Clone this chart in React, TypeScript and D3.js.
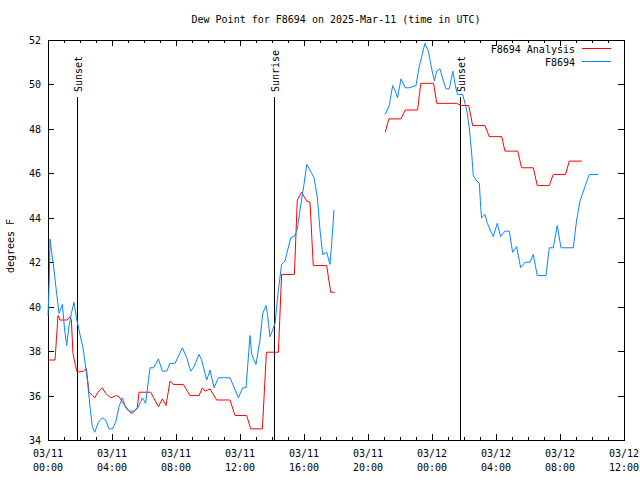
import React from "react";
import * as d3 from "d3";

const title = "Dew Point for F8694 on 2025-Mar-11 (time in UTC)";
const yLabel = "degrees F";
const yTicks = [34, 36, 38, 40, 42, 44, 46, 48, 50, 52];
const xTickHours = [0, 4, 8, 12, 16, 20, 24, 28, 32, 36];
const xTickDates = ["03/11", "03/11", "03/11", "03/11", "03/11", "03/11", "03/12", "03/12", "03/12", "03/12"];
const xTickTimes = ["00:00", "04:00", "08:00", "12:00", "16:00", "20:00", "00:00", "04:00", "08:00", "12:00"];
const seriesNames = ["F8694 Analysis", "F8694"];
const seriesColors = ["#ff0000", "#0a84ff"];

const events = [
  { name: "Sunset", hour: 1.81 },
  { name: "Sunrise", hour: 14.13 },
  { name: "Sunset", hour: 25.77 },
];

// hours since 03/11 00:00 UTC, dew point °F
const analysisSeg1: [number, number][] = [
  [0, 37.6], [0.44, 37.6], [0.625, 39.6], [0.75, 39.4], [1.2, 39.4], [1.375, 39.55], [1.46, 39.4],
  [1.56, 37.9], [1.73, 37.3], [1.83, 37.05], [2.21, 37.1], [2.4, 37.2], [2.56, 36.15], [2.77, 36.0],
  [2.92, 35.9], [3.125, 36.15], [3.4, 36.35], [3.6, 36.1], [3.92, 35.9], [4.29, 36.0], [4.44, 35.95],
  [4.75, 35.6], [5.125, 35.25], [5.27, 35.2], [5.58, 35.45], [5.69, 36.15], [6.42, 36.15], [6.6, 35.9],
  [6.9, 35.5], [7.15, 35.85], [7.375, 35.55], [7.625, 36.65], [7.83, 36.5], [8.46, 36.5], [8.875, 36.0],
  [9.44, 36.0], [9.65, 36.35], [9.81, 36.2], [10.125, 36.3], [10.54, 35.8], [11.375, 35.8], [11.69, 35.1],
  [12.42, 35.1], [12.67, 34.5], [13.4, 34.5], [13.65, 37.95], [14.4, 37.95], [14.6, 41.45], [15.4, 41.45],
  [15.58, 44.8], [15.85, 45.15], [16.17, 44.75], [16.375, 44.7], [16.58, 41.85], [17.42, 41.85],
  [17.52, 41.35], [17.67, 40.65], [17.92, 40.65],
];
const analysisSeg2: [number, number][] = [
  [21.08, 47.85], [21.3, 48.45], [22.06, 48.45], [22.33, 48.85], [23.1, 48.85], [23.3, 50.05],
  [24.1, 50.05], [24.3, 49.15], [25.54, 49.15], [25.85, 49.05], [26.3, 49.05], [26.54, 48.15],
  [27.31, 48.15], [27.58, 47.65], [28.36, 47.65], [28.56, 47.0], [29.36, 47.0], [29.6, 46.25],
  [30.33, 46.25], [30.58, 45.45], [31.33, 45.45], [31.58, 45.95], [32.35, 45.95], [32.58, 46.55],
  [33.36, 46.55],
];
const obsSeg1: [number, number][] = [
  [0, 39.6], [0.08, 41.2], [0.125, 43.05], [0.21, 42.55], [0.375, 41.65], [0.54, 40.6], [0.69, 39.7],
  [0.9, 40.1], [1.04, 38.95], [1.17, 38.25], [1.31, 39.1], [1.46, 39.7], [1.625, 40.2], [1.79, 39.45],
  [2.0, 38.75], [2.21, 38.05], [2.46, 36.7], [2.625, 35.5], [2.77, 34.6], [2.92, 34.35], [3.15, 34.8],
  [3.4, 35.0], [3.6, 34.9], [3.81, 34.5], [4.02, 34.5], [4.23, 34.8], [4.44, 35.5], [4.65, 35.9],
  [4.85, 35.45], [5.06, 35.3], [5.375, 35.3], [5.625, 35.45], [5.9, 35.9], [6.1, 35.65], [6.375, 37.25],
  [6.6, 37.25], [6.9, 37.65], [7.15, 37.1], [7.42, 37.1], [7.625, 37.45], [7.94, 37.45], [8.4, 38.15],
  [8.67, 37.7], [8.92, 37.1], [9.125, 37.3], [9.44, 37.85], [9.6, 37.6], [9.92, 36.7], [10.125, 37.15],
  [10.375, 36.35], [10.65, 36.8], [11.375, 36.8], [11.9, 35.9], [12.17, 36.35], [12.375, 36.35],
  [12.625, 38.7], [12.73, 37.85], [13.0, 37.4], [13.25, 38.5], [13.42, 39.7], [13.625, 40.05],
  [13.71, 39.7], [13.875, 38.65], [14.04, 38.95], [14.19, 39.25], [14.4, 40.75], [14.6, 41.9],
  [14.81, 42.05], [14.98, 42.55], [15.17, 43.1], [15.44, 43.2], [15.58, 43.5], [15.75, 44.35],
  [16.0, 45.5], [16.17, 46.4], [16.375, 46.15], [16.625, 45.8], [16.83, 44.95], [17.0, 43.45],
  [17.17, 42.35], [17.42, 42.45], [17.625, 41.9], [17.73, 42.85], [17.875, 44.35],
];
const obsSeg2: [number, number][] = [
  [21.08, 48.65], [21.33, 49.05], [21.54, 49.95], [21.71, 49.7], [21.85, 49.4], [22.06, 50.25],
  [22.33, 49.85], [22.58, 49.85], [23.0, 49.95], [23.17, 50.7], [23.56, 51.85], [23.77, 51.5],
  [23.98, 50.7], [24.15, 50.15], [24.29, 50.6], [24.5, 50.7], [24.67, 50.25], [24.875, 49.8],
  [25.08, 49.8], [25.3, 50.6], [25.5, 49.8], [25.6, 49.55], [25.92, 49.55], [26.17, 48.85],
  [26.33, 48.05], [26.48, 46.9], [26.58, 45.9], [26.75, 45.7], [26.96, 45.55], [27.04, 44.5],
  [27.1, 44.0], [27.31, 44.15], [27.46, 43.75], [27.67, 43.4], [27.83, 43.15], [28.08, 43.75],
  [28.29, 43.15], [28.56, 43.4], [28.83, 43.4], [29.04, 42.45], [29.29, 42.7], [29.54, 41.75],
  [29.81, 42.0], [30.125, 42.0], [30.33, 42.35], [30.58, 41.4], [31.125, 41.4], [31.33, 42.65],
  [31.58, 42.65], [31.83, 43.65], [32.06, 42.65], [32.83, 42.65], [33.04, 43.9], [33.25, 44.75],
  [33.56, 45.4], [33.83, 45.95], [34.4, 45.95],
];

const W = 640, H = 480;
const L = 48, R = 624, T = 40, B = 440;
const FONT = "'DejaVu Sans Mono', monospace";

export default function App() {
  const x = d3.scaleLinear().domain([0, 36]).range([L, R]);
  const y = d3.scaleLinear().domain([34, 52]).range([B, T]);
  const line = d3.line<[number, number]>().x((d) => x(d[0])).y((d) => y(d[1]));
  const minor = d3.range(0, 37, 1);

  return (
    <svg width={W} height={H} style={{ position: "absolute", left: 0, top: 0, background: "#fff" }}
      fontFamily={FONT} fontSize={10}>
      <rect x={0} y={0} width={W} height={H} fill="#fff" />
      <text x={(L + R) / 2} y={23} textAnchor="middle">{title}</text>
      <text transform={`translate(14,${(T + B) / 2 + 6}) rotate(-90)`} textAnchor="middle">{yLabel}</text>

      <g shapeRendering="crispEdges" stroke="#000" strokeWidth={1}>
        {yTicks.map((v) => (
          <g key={"y" + v}>
            <line x1={L} x2={L + 6} y1={Math.round(y(v)) + 0.5} y2={Math.round(y(v)) + 0.5} />
            <line x1={R - 6} x2={R} y1={Math.round(y(v)) + 0.5} y2={Math.round(y(v)) + 0.5} />
          </g>
        ))}
        {minor.map((h) => {
          const len = h % 4 === 0 ? 6 : 3;
          const xx = Math.round(x(h)) + 0.5;
          return (
            <g key={"x" + h}>
              <line x1={xx} x2={xx} y1={B} y2={B - len} />
              <line x1={xx} x2={xx} y1={T} y2={T + len} />
            </g>
          );
        })}
        {events.map((e, i) => (
          <line key={"ev" + i} x1={Math.round(x(e.hour)) + 0.5} x2={Math.round(x(e.hour)) + 0.5} y1={97} y2={B} />
        ))}
        <rect x={L + 0.5} y={T + 0.5} width={R - L} height={B - T} fill="none" />
      </g>

      {yTicks.map((v) => (
        <text key={"yl" + v} x={L - 7} y={y(v) + 4} textAnchor="end">{v}</text>
      ))}
      {xTickHours.map((h, i) => (
        <g key={"xl" + h}>
          <text x={x(h)} y={457} textAnchor="middle">{xTickDates[i]}</text>
          <text x={x(h)} y={471} textAnchor="middle">{xTickTimes[i]}</text>
        </g>
      ))}
      {events.map((e, i) => (
        <text key={"et" + i} transform={`translate(${Math.round(x(e.hour)) + 5},92) rotate(-90)`} textAnchor="start">{e.name}</text>
      ))}

      <g fill="none" strokeWidth={1}>
        <path d={line(analysisSeg1) || ""} stroke={seriesColors[0]} />
        <path d={line(analysisSeg2) || ""} stroke={seriesColors[0]} />
        <path d={line(obsSeg1) || ""} stroke={seriesColors[1]} />
        <path d={line(obsSeg2) || ""} stroke={seriesColors[1]} />
      </g>

      {seriesNames.map((n, i) => (
        <g key={"lg" + i}>
          <text x={575} y={53 + i * 13} textAnchor="end">{n}</text>
          <line x1={582} x2={611} y1={48.5 + i * 13} y2={48.5 + i * 13} stroke={seriesColors[i]} shapeRendering="crispEdges" />
        </g>
      ))}
    </svg>
  );
}
